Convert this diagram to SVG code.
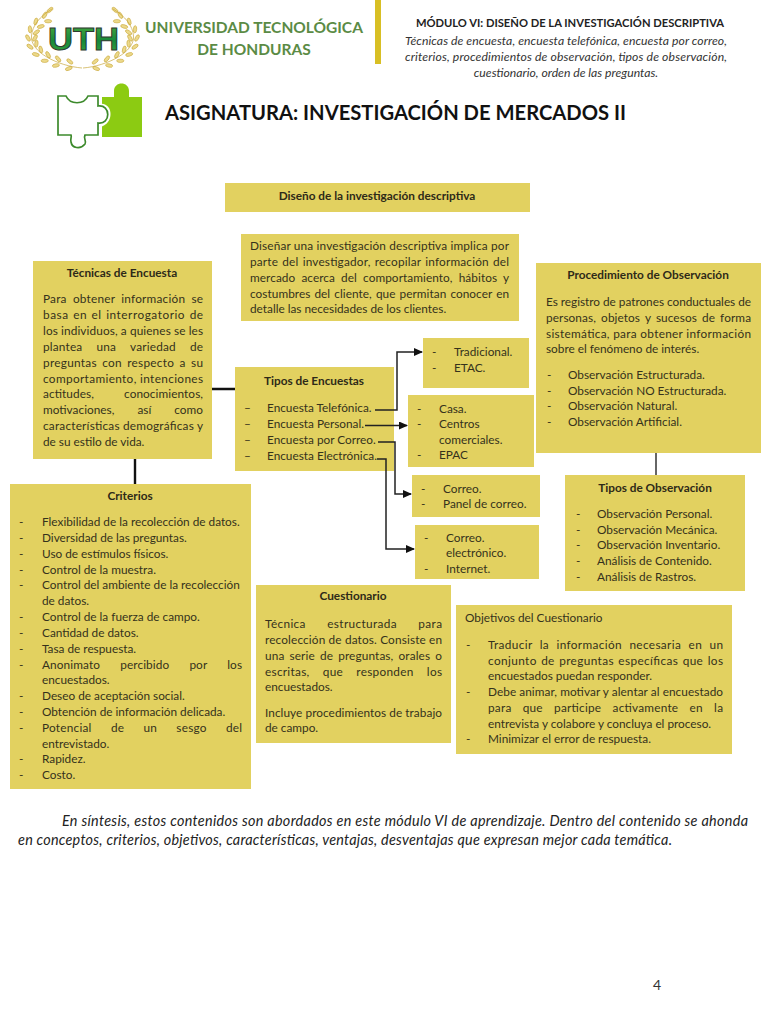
<svg xmlns="http://www.w3.org/2000/svg" width="768" height="1024" viewBox="0 0 768 1024">
<style>
text{font-family:Lato,"Open Sans","Liberation Sans",sans-serif;font-size:11.8px;fill:#35321c}
.b{fill:#e2d160}
.h{font-weight:700;fill:#2e2a18;text-anchor:middle}
.c{fill:none;stroke:#222;stroke-width:1.5}
.t{stroke:#111;stroke-width:2.4;fill:none}
.l{fill:#ecd98a;stroke:#c9a83c;stroke-width:.6}
.i{font-size:12.2px;font-style:italic;fill:#333}
.f{font-size:14.4px;font-style:italic;fill:#222}
</style>
<defs>
<marker id="a" markerWidth="9" markerHeight="8" refX="8" refY="4" orient="auto" markerUnits="userSpaceOnUse"><path d="M0 0L9 4L0 8z" fill="#111"/></marker>
<linearGradient id="g" x1="0" y1="0" x2="0" y2="1"><stop offset="0" stop-color="#4fae3f"/><stop offset=".55" stop-color="#16893a"/><stop offset="1" stop-color="#3fa53c"/></linearGradient>
<g id="w">
<ellipse class="l" rx="3.6" ry="1.7" transform="translate(68.800 68.500) rotate(-21)"/>
<ellipse class="l" rx="3.6" ry="1.7" transform="translate(55.900 65.500) rotate(-11)"/>
<ellipse class="l" rx="3.6" ry="1.7" transform="translate(44.700 60.800)"/>
<ellipse class="l" rx="3.6" ry="1.7" transform="translate(35.800 54.500) rotate(15)"/>
<ellipse class="l" rx="3.600" ry="1.7" transform="translate(30 46.700) rotate(35)"/>
<ellipse class="l" rx="3.6" ry="1.7" transform="translate(28 38) rotate(60)"/>
<ellipse class="l" rx="3.6" ry="1.7" transform="translate(30 29.300) rotate(85)"/>
<ellipse class="l" rx="3.6" ry="1.7" transform="translate(35.800 21.500) rotate(105)"/>
<ellipse class="l" rx="3.6" ry="1.7" transform="translate(44.700 15.200) rotate(120)"/>
<ellipse class="l" rx="3.6" ry="1.7" transform="translate(69.800 61.500) rotate(39)"/>
<ellipse class="l" rx="3.6" ry="1.7" transform="translate(58.100 58.900) rotate(49)"/>
<ellipse class="l" rx="3.6" ry="1.7" transform="translate(48.100 54.800) rotate(60)"/>
<ellipse class="l" rx="3.6" ry="1.7" transform="translate(40.800 49.500) rotate(75)"/>
<ellipse class="l" rx="3.6" ry="1.7" transform="translate(36.400 43.700) rotate(95)"/>
<ellipse class="l" rx="3.6" ry="1.7" transform="translate(35 38) rotate(120)"/>
<ellipse class="l" rx="3.6" ry="1.7" transform="translate(36.400 32.300) rotate(145)"/>
<ellipse class="l" rx="3.6" ry="1.7" transform="translate(40.800 26.500) rotate(165)"/>
<ellipse class="l" rx="3.6" ry="1.7" transform="translate(48.100 21.200) rotate(180)"/>
<ellipse class="l" rx="3.6" ry="1.7" transform="translate(50 10) rotate(140)"/>
<path d="M82 68C58 66 30 52 31.500 36C32 26 40 16 52 9" fill="none" stroke="#c9a83c" stroke-width=".7"/>
</g>
</defs>
<rect width="768" height="1024" fill="#fff"/>
<g id="logo">
<use href="#w"/><use href="#w" transform="translate(165 0) scale(-1 1)"/>
<text x="48" y="50" textLength="71" lengthAdjust="spacingAndGlyphs" style="font-size:32px;font-weight:700;fill:url(#g);stroke:#2f3a30;stroke-width:1;font-family:'Liberation Sans',sans-serif">UTH</text>
</g>
<g id="universidad">
<text x="254" y="33" style="font-size:15.500px;font-weight:700;fill:#5b8b45;text-anchor:middle">UNIVERSIDAD TECNOLÓGICA</text>
<text x="254" y="55" style="font-size:15.500px;font-weight:700;fill:#5b8b45;text-anchor:middle">DE HONDURAS</text>
<rect x="375" y="0" width="6" height="64" fill="#d8bf24"/>
</g>
<g id="puzzle">
<path d="M102 97H114V91C114 81 129 81 129 91V97H142V137H102z" fill="#8ccb12"/>
<path d="M100 104C113 102 115 124 100 127z" fill="#fff"/>
<path d="M58 96H66C70 105 84 105 88 96H98V106C111 104 111 125 98 123V135H85C83 139 87 141 85 144C80 150 72 148 71 142C70 139 72 137 71 135H58z" fill="#fff" stroke="#3d8a2c" stroke-width="1.7"/>
</g>
<text id="asignatura" x="165" y="120" style="font-size:20.200px;font-weight:700;fill:#111">ASIGNATURA: INVESTIGACIÓN DE MERCADOS II</text>
<g id="encabezado">
<text x="570" y="26.500" class="h" style="font-size:11.200px;fill:#222">MÓDULO VI: DISEÑO DE LA INVESTIGACIÓN DESCRIPTIVA</text>
<text x="405" y="45" class="i" textLength="322">Técnicas de encuesta, encuesta telefónica, encuesta por correo,</text>
<text x="405" y="61" class="i" textLength="322">criterios, procedimientos de observación, tipos de observación,</text>
<text x="566" y="77" class="i" style="text-anchor:middle">cuestionario, orden de las preguntas.</text>
</g>

<g id="titulo"><rect class="b" x="225" y="183" width="305" height="29"/>
<text class="h" x="377" y="200">Diseño de la investigación descriptiva</text></g>

<g id="intro"><rect class="b" x="241" y="234" width="278" height="87"/>
<text x="250" y="250" textLength="259">Diseñar una investigación descriptiva implica por</text>
<text x="250" y="266" textLength="259" word-spacing="1">parte del investigador, recopilar información del</text>
<text x="250" y="282" textLength="259" word-spacing="3">mercado acerca del comportamiento, hábitos y</text>
<text x="250" y="298" textLength="259" word-spacing="1">costumbres del cliente, que permitan conocer en</text>
<text x="250" y="313">detalle las necesidades de los clientes.</text></g>

<g id="tecnicas"><rect class="b" x="33" y="261" width="179" height="198"/>
<text class="h" x="122" y="277">Técnicas de Encuesta</text>
<text x="43" y="303" textLength="160" word-spacing="3">Para obtener información se</text>
<text x="43" y="319" textLength="160" word-spacing="1">basa en el interrogatorio de</text>
<text x="43" y="335" textLength="160">los individuos, a quienes se les</text>
<text x="43" y="351" textLength="160" word-spacing="11">plantea una variedad de</text>
<text x="43" y="367" textLength="160" word-spacing="2">preguntas con respecto a su</text>
<text x="43" y="383" textLength="160">comportamiento, intenciones</text>
<text x="43" y="398" textLength="160" word-spacing="27">actitudes, conocimientos,</text>
<text x="43" y="414" textLength="160" word-spacing="20">motivaciones, así como</text>
<text x="43" y="430" textLength="160">características demográficas y</text>
<text x="43" y="446">de su estilo de vida.</text></g>

<g id="procedimiento"><rect class="b" x="536" y="263" width="225" height="190"/>
<text class="h" x="648" y="279">Procedimiento de Observación</text>
<text x="546" y="306" textLength="205">Es registro de patrones conductuales de</text>
<text x="546" y="322" textLength="205" word-spacing="2">personas, objetos y sucesos de forma</text>
<text x="546" y="338" textLength="205">sistemática, para obtener información</text>
<text x="546" y="353">sobre el fenómeno de interés.</text>
<text x="547" y="379">-</text><text x="568" y="379">Observación Estructurada.</text>
<text x="547" y="395">-</text><text x="568" y="395">Observación NO Estructurada.</text>
<text x="547" y="410">-</text><text x="568" y="410">Observación Natural.</text>
<text x="547" y="426">-</text><text x="568" y="426">Observación Artificial.</text></g>

<g id="tipos-encuestas"><rect class="b" x="235" y="367" width="159" height="104"/>
<text class="h" x="314" y="385">Tipos de Encuestas</text>
<text x="244" y="412">–</text><text x="267" y="412">Encuesta Telefónica.</text>
<text x="244" y="428">–</text><text x="267" y="428">Encuesta Personal.</text>
<text x="244" y="444">–</text><text x="267" y="444">Encuesta por Correo.</text>
<text x="244" y="460">–</text><text x="267" y="460">Encuesta Electrónica.</text></g>

<g id="tradicional"><rect class="b" x="423" y="338" width="106" height="50"/>
<text x="432" y="356">-</text><text x="454" y="356">Tradicional.</text>
<text x="432" y="372">-</text><text x="454" y="372">ETAC.</text></g>

<g id="casa"><rect class="b" x="408" y="395" width="126" height="72"/>
<text x="417" y="413">-</text><text x="439" y="413">Casa.</text>
<text x="417" y="428">-</text><text x="439" y="428">Centros</text>
<text x="439" y="444">comerciales.</text>
<text x="417" y="459">-</text><text x="439" y="459">EPAC</text></g>

<g id="correo"><rect class="b" x="412" y="475" width="128" height="42"/>
<text x="421" y="493">-</text><text x="443" y="493">Correo.</text>
<text x="421" y="508">-</text><text x="443" y="508">Panel de correo.</text></g>

<g id="electronico"><rect class="b" x="415" y="525" width="124" height="54"/>
<text x="424" y="542">-</text><text x="446" y="542">Correo.</text>
<text x="446" y="557">electrónico.</text>
<text x="424" y="573">-</text><text x="446" y="573">Internet.</text></g>

<g id="tipos-observacion"><rect class="b" x="565" y="475" width="180" height="116"/>
<text class="h" x="655" y="492">Tipos de Observación</text>
<text x="576" y="518">-</text><text x="597" y="518">Observación Personal.</text>
<text x="576" y="534">-</text><text x="597" y="534">Observación Mecánica.</text>
<text x="576" y="549">-</text><text x="597" y="549">Observación Inventario.</text>
<text x="576" y="565">-</text><text x="597" y="565">Análisis de Contenido.</text>
<text x="576" y="581">-</text><text x="597" y="581">Análisis de Rastros.</text></g>

<g id="criterios"><rect class="b" x="10" y="484" width="241" height="305"/>
<text class="h" x="130" y="500">Criterios</text>
<text x="19" y="526">-</text><text x="42" y="526">Flexibilidad de la recolección de datos.</text>
<text x="19" y="542">-</text><text x="42" y="542">Diversidad de las preguntas.</text>
<text x="19" y="558">-</text><text x="42" y="558">Uso de estímulos físicos.</text>
<text x="19" y="574">-</text><text x="42" y="574">Control de la muestra.</text>
<text x="19" y="589">-</text><text x="42" y="589">Control del ambiente de la recolección</text>
<text x="42" y="605">de datos.</text>
<text x="19" y="621">-</text><text x="42" y="621">Control de la fuerza de campo.</text>
<text x="19" y="637">-</text><text x="42" y="637">Cantidad de datos.</text>
<text x="19" y="653">-</text><text x="42" y="653">Tasa de respuesta.</text>
<text x="19" y="669">-</text><text x="42" y="669" textLength="200" word-spacing="17">Anonimato percibido por los</text>
<text x="42" y="684">encuestados.</text>
<text x="19" y="700">-</text><text x="42" y="700">Deseo de aceptación social.</text>
<text x="19" y="716">-</text><text x="42" y="716">Obtención de información delicada.</text>
<text x="19" y="732">-</text><text x="42" y="732" textLength="200" word-spacing="16">Potencial de un sesgo del</text>
<text x="42" y="748">entrevistado.</text>
<text x="19" y="763">-</text><text x="42" y="763">Rapidez.</text>
<text x="19" y="779">-</text><text x="42" y="779">Costo.</text></g>

<g id="cuestionario"><rect class="b" x="256" y="585" width="195" height="158"/>
<text class="h" x="353" y="600">Cuestionario</text>
<text x="265" y="628" textLength="177" word-spacing="18">Técnica estructurada para</text>
<text x="265" y="644" textLength="177">recolección de datos. Consiste en</text>
<text x="265" y="660" textLength="177" word-spacing="2">una serie de preguntas, orales o</text>
<text x="265" y="676" textLength="177" word-spacing="10">escritas, que responden los</text>
<text x="265" y="691">encuestados.</text>
<text x="265" y="717" textLength="177">Incluye procedimientos de trabajo</text>
<text x="265" y="732">de campo.</text></g>

<g id="objetivos"><rect class="b" x="456" y="605" width="276" height="149"/>
<text x="465" y="622">Objetivos del Cuestionario</text>
<text x="466" y="649">-</text><text x="488" y="649" textLength="235" word-spacing="4">Traducir la información necesaria en un</text>
<text x="488" y="665" textLength="235" word-spacing="1">conjunto de preguntas específicas que los</text>
<text x="488" y="680">encuestados puedan responder.</text>
<text x="466" y="696">-</text><text x="488" y="696" textLength="235">Debe animar, motivar y alentar al encuestado</text>
<text x="488" y="712" textLength="235" word-spacing="8">para que participe activamente en la</text>
<text x="488" y="728">entrevista y colabore y concluya el proceso.</text>
<text x="466" y="743">-</text><text x="488" y="743">Minimizar el error de respuesta.</text></g>

<g id="conectores">
<path class="t" d="M212 389H235M135 459V484"/>
<path d="M656 453V475" stroke="#333" stroke-width="1.5" fill="none"/>
<path class="c" d="M375 410H397V352H422" marker-end="url(#a)"/>
<path class="c" d="M365 425.500H407" marker-end="url(#a)"/>
<path class="c" d="M378 442H395V494H411" marker-end="url(#a)"/>
<path class="c" d="M377 459H386V549H414" marker-end="url(#a)"/>
</g>

<g id="sintesis">
<text x="62" y="826" textLength="686" class="f">En síntesis, estos contenidos son abordados en este módulo VI de aprendizaje. Dentro del contenido se ahonda</text>
<text x="18" y="845" textLength="654" class="f">en conceptos, criterios, objetivos, características, ventajas, desventajas que expresan mejor cada temática.</text>
</g>
<text id="pagina" x="653" y="990" style="font-size:14px;fill:#333">4</text>
</svg>
